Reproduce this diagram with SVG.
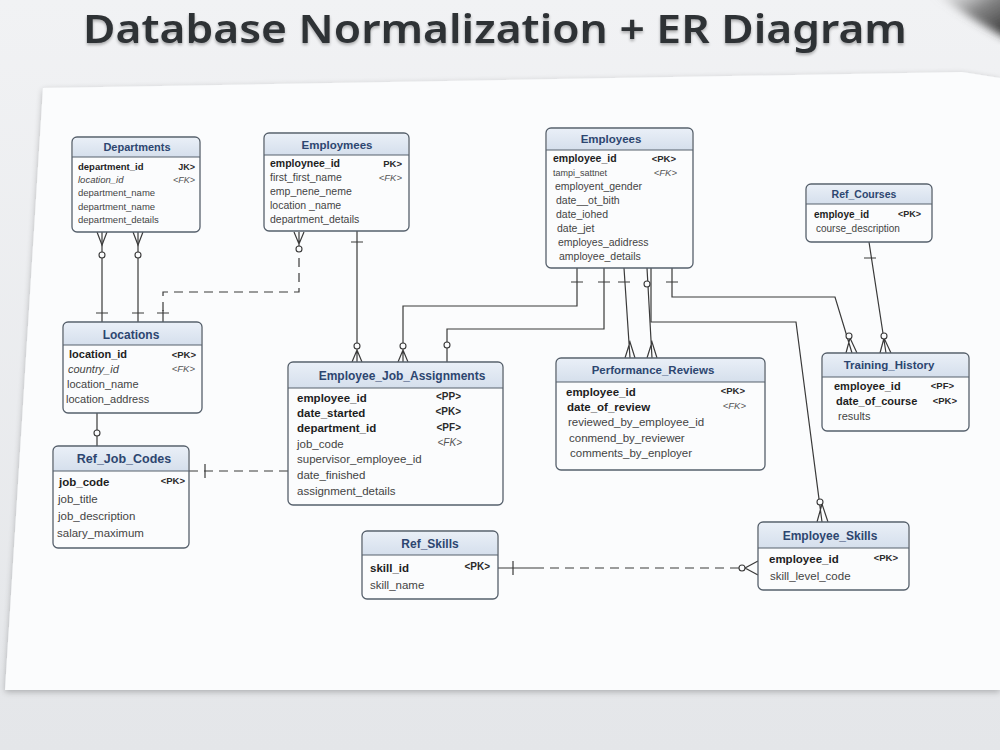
<svg xmlns="http://www.w3.org/2000/svg" width="1000" height="750" viewBox="0 0 1000 750">
<defs>
<linearGradient id="bg" x1="0" y1="0" x2="0" y2="1"><stop offset="0" stop-color="#f1f2f4"/><stop offset="1" stop-color="#e4e6e9"/></linearGradient>
<linearGradient id="hd" x1="0" y1="0" x2="0" y2="1"><stop offset="0" stop-color="#e9eff7"/><stop offset="1" stop-color="#d5dfec"/></linearGradient>
<linearGradient id="pen" x1="0" y1="0" x2="1" y2="1"><stop offset="0" stop-color="#bbb" stop-opacity="0"/><stop offset="0.5" stop-color="#555" stop-opacity="0.7"/><stop offset="1" stop-color="#222"/></linearGradient>
<filter id="blur"><feGaussianBlur stdDeviation="4"/></filter>
<filter id="sh" x="-5%" y="-5%" width="110%" height="115%"><feGaussianBlur in="SourceAlpha" stdDeviation="3"/><feOffset dy="2"/><feComponentTransfer><feFuncA type="linear" slope="0.25"/></feComponentTransfer><feMerge><feMergeNode/><feMergeNode in="SourceGraphic"/></feMerge></filter>
<filter id="tsh" x="-5%" y="-20%" width="110%" height="150%"><feGaussianBlur in="SourceAlpha" stdDeviation="1.5"/><feOffset dy="2"/><feComponentTransfer><feFuncA type="linear" slope="0.3"/></feComponentTransfer><feMerge><feMergeNode/><feMergeNode in="SourceGraphic"/></feMerge></filter>
</defs>
<style>
.box{fill:#fbfcfd;stroke:#56606c;stroke-width:1.3}
.hdr{fill:url(#hd)}
.sep{stroke:#56606c;stroke-width:1}
.ttl{font-family:"Liberation Sans",Arial,sans-serif;font-weight:bold;fill:#2d4670;text-anchor:middle}
.r{font-family:"Liberation Sans",Arial,sans-serif;fill:#444}
.b{font-weight:bold;fill:#1e1e1e}
.i{font-style:italic}
.k{font-family:"Liberation Sans",Arial,sans-serif;text-anchor:end;fill:#2a2a2a}
.kb{font-weight:bold}
.ki{font-style:italic;fill:#555}
.ln{fill:none;stroke:#3a3a3a;stroke-width:1.2}
.dl{fill:none;stroke:#3a3a3a;stroke-width:1.2;stroke-dasharray:9 6}
.c{fill:#fbfcfd;stroke:#3a3a3a;stroke-width:1.1}
</style>
<rect width="1000" height="750" fill="url(#bg)"/>
<path d="M930,-10 L1010,-10 L1010,40 Q975,22 930,-10 Z" fill="url(#pen)" filter="url(#blur)"/>
<polygon points="43,88 962,72 1000,78 1000,690 5,690" fill="#fbfcfd" filter="url(#sh)"/>
<text x="495" y="43" font-family="'Noto Sans','Open Sans',sans-serif" font-weight="600" font-size="40" fill="#2f3236" text-anchor="middle" textLength="824" lengthAdjust="spacingAndGlyphs" filter="url(#tsh)">Database Normalization + ER Diagram</text>

<g id="connectors">
<path class="ln" d="M102,232 V322 M138,232 V322"/>
<path class="ln" d="M97,232 L102,245 L107,232 M133,232 L138,245 L143,232 M96,313 H108 M132,313 H144"/>
<circle class="c" cx="102" cy="255" r="3"/><circle class="c" cx="138" cy="255" r="3"/>
<path class="dl" d="M299,258 V292 H163 V312"/>
<path class="ln" d="M299,232 V250 M294,232 L299,244 L304,232 M163,310 V322 M157,313 H169"/>
<circle class="c" cx="299" cy="249" r="3"/>
<path class="ln" d="M357,231 V362 M351,242 H363 M352,362 L357,350 L362,362"/>
<circle class="c" cx="357" cy="346" r="3"/>
<path class="ln" d="M577,268 V306 H403 V362 M571,282 H583 M398,362 L403,350 L408,362"/>
<circle class="c" cx="403" cy="346" r="3"/>
<path class="ln" d="M604,268 V329 H447 V362 M598,282 H610"/>
<circle class="c" cx="447" cy="345" r="3"/>
<path class="ln" d="M624,268 L630,358 M618,282 H630 M625,358 L630,342 L635,358"/>
<path class="ln" d="M647,268 L652,358 M647,358 L652,342 L657,358"/>
<circle class="c" cx="647" cy="284" r="3"/>
<path class="ln" d="M651,268 V322 H796 L822,522 M817,522 L822,504 L828,522"/>
<circle class="c" cx="820" cy="502" r="3"/>
<path class="ln" d="M672,268 V297 H835 L852,353 M666,282 H678 M846,353 L850,338 L857,353"/>
<circle class="c" cx="849" cy="336" r="3"/>
<path class="ln" d="M869,242 L886,353 M864,258 H876 M880,353 L884,338 L891,353"/>
<circle class="c" cx="884" cy="336" r="3"/>
<path class="ln" d="M97,413 V446"/>
<circle class="c" cx="97" cy="433" r="3"/>
<path class="dl" d="M189,471 H288"/>
<path class="ln" d="M205,464 V478"/>
<path class="ln" d="M498,568 H535"/>
<path class="dl" d="M535,568 H739"/>
<path class="ln" d="M513,561 V575 M758,561 L745,568 L758,575"/>
<circle class="c" cx="742" cy="568" r="3"/>
</g>

<g id="departments">
<rect class="box" x="72" y="137" width="128" height="95" rx="5"/>
<path class="hdr" d="M73,157 V142 Q73,138 77,138 H195 Q199,138 199,142 V157 Z"/>
<line class="sep" x1="72" y1="157" x2="200" y2="157"/>
<text class="ttl" x="137" y="151" font-size="11">Departments</text>
<g class="r" font-size="9.5"><text class="b" x="78" y="170">department_id</text><text class="i" x="78" y="183">location_id</text><text x="78" y="196">department_name</text><text x="78" y="210">department_name</text><text x="78" y="223">department_details</text></g>
<g class="k" font-size="9"><text class="kb" x="195" y="170">JK&gt;</text><text class="ki" x="195" y="183">&lt;FK&gt;</text></g>
</g>

<g id="employmees">
<rect class="box" x="264" y="133" width="145" height="98" rx="5"/>
<path class="hdr" d="M265,155 V138 Q265,134 269,134 H404 Q408,134 408,138 V155 Z"/>
<line class="sep" x1="264" y1="155" x2="409" y2="155"/>
<text class="ttl" x="337" y="149" font-size="11.5">Employmees</text>
<g class="r" font-size="10.5"><text class="b" x="270" y="167">employnee_id</text><text x="270" y="181">first_first_name</text><text x="270" y="195">emp_nene_neme</text><text x="270" y="209">location _name</text><text x="270" y="223">department_details</text></g>
<g class="k" font-size="9.5"><text class="kb" x="402" y="167">PK&gt;</text><text class="ki" x="402" y="181">&lt;FK&gt;</text></g>
</g>

<g id="employees">
<rect class="box" x="546" y="128" width="147" height="140" rx="5"/>
<path class="hdr" d="M547,150 V133 Q547,129 551,129 H688 Q692,129 692,133 V150 Z"/>
<line class="sep" x1="546" y1="150" x2="693" y2="150"/>
<text class="ttl" x="611" y="143" font-size="11.5">Employees</text>
<g class="r" font-size="10.5"><text class="b" x="553" y="162">employee_id</text><text x="553" y="176" font-size="9">tampi_sattnet</text><text x="555" y="190">employent_gender</text><text x="556" y="204">date__ot_bith</text><text x="556" y="218">date_iohed</text><text x="557" y="232">date_jet</text><text x="558" y="246">employes_adidress</text><text x="559" y="260">amployee_details</text></g>
<g class="k" font-size="9.5"><text class="kb" x="676" y="162">&lt;PK&gt;</text><text class="ki" x="677" y="176">&lt;FK&gt;</text></g>
</g>

<g id="ref_courses">
<rect class="box" x="806" y="184" width="126" height="58" rx="5"/>
<path class="hdr" d="M807,204 V189 Q807,185 811,185 H927 Q931,185 931,189 V204 Z"/>
<line class="sep" x1="806" y1="204" x2="932" y2="204"/>
<text class="ttl" x="864" y="198" font-size="10.5">Ref_Courses</text>
<g class="r" font-size="10"><text class="b" x="814" y="218">employe_id</text><text x="816" y="232">course_description</text></g>
<g class="k" font-size="9"><text class="kb" x="921" y="217">&lt;PK&gt;</text></g>
</g>

<g id="locations">
<rect class="box" x="63" y="322" width="139" height="91" rx="5"/>
<path class="hdr" d="M64,345 V327 Q64,323 68,323 H197 Q201,323 201,327 V345 Z"/>
<line class="sep" x1="63" y1="345" x2="202" y2="345"/>
<text class="ttl" x="131" y="339" font-size="12">Locations</text>
<g class="r" font-size="11"><text class="b" x="69" y="358">location_id</text><text class="i" x="68" y="373">country_id</text><text x="67" y="388">location_name</text><text x="66" y="403">location_address</text></g>
<g class="k" font-size="9.5"><text class="kb" x="196" y="358">&lt;PK&gt;</text><text class="ki" x="195" y="372">&lt;FK&gt;</text></g>
</g>

<g id="employee_job_assignments">
<rect class="box" x="288" y="362" width="215" height="143" rx="5"/>
<path class="hdr" d="M289,388 V367 Q289,363 293,363 H498 Q502,363 502,367 V388 Z"/>
<line class="sep" x1="288" y1="388" x2="503" y2="388"/>
<text class="ttl" x="402" y="380" font-size="12">Employee_Job_Assignments</text>
<g class="r" font-size="11.5"><text class="b" x="297" y="402">employee_id</text><text class="b" x="297" y="417">date_started</text><text class="b" x="297" y="432">department_id</text><text x="297" y="448">job_code</text><text x="297" y="463">supervisor_employee_id</text><text x="297" y="479">date_finished</text><text x="297" y="495">assignment_details</text></g>
<g class="k" font-size="10"><text class="kb" x="461" y="400">&lt;PP&gt;</text><text class="kb" x="461" y="415">&lt;PK&gt;</text><text class="kb" x="461" y="431">&lt;PF&gt;</text><text class="ki" x="462" y="446">&lt;FK&gt;</text></g>
</g>

<g id="performance_reviews">
<rect class="box" x="556" y="358" width="209" height="112" rx="5"/>
<path class="hdr" d="M557,382 V363 Q557,359 561,359 H760 Q764,359 764,363 V382 Z"/>
<line class="sep" x1="556" y1="382" x2="765" y2="382"/>
<text class="ttl" x="653" y="374" font-size="11.5">Performance_Reviews</text>
<g class="r" font-size="11.5"><text class="b" x="566" y="396">employee_id</text><text class="b" x="567" y="411">date_of_review</text><text x="568" y="426">reviewed_by_employee_id</text><text x="569" y="442">conmend_by_reviewer</text><text x="570" y="457">comments_by_enployer</text></g>
<g class="k" font-size="9.5"><text class="kb" x="745" y="394">&lt;PK&gt;</text><text class="ki" x="746" y="409">&lt;FK&gt;</text></g>
</g>

<g id="training_history">
<rect class="box" x="822" y="353" width="147" height="78" rx="5"/>
<path class="hdr" d="M823,377 V358 Q823,354 827,354 H964 Q968,354 968,358 V377 Z"/>
<line class="sep" x1="822" y1="377" x2="969" y2="377"/>
<text class="ttl" x="889" y="369" font-size="11.5">Training_History</text>
<g class="r" font-size="11"><text class="b" x="834" y="390">employee_id</text><text class="b" x="836" y="405">date_of_course</text><text x="838" y="420">results</text></g>
<g class="k" font-size="9.5"><text class="kb" x="954" y="389">&lt;PF&gt;</text><text class="kb" x="957" y="404">&lt;PK&gt;</text></g>
</g>

<g id="ref_job_codes">
<rect class="box" x="53" y="446" width="136" height="102" rx="5"/>
<path class="hdr" d="M54,471 V451 Q54,447 58,447 H184 Q188,447 188,451 V471 Z"/>
<line class="sep" x1="53" y1="471" x2="189" y2="471"/>
<text class="ttl" x="124" y="463" font-size="12.5">Ref_Job_Codes</text>
<g class="r" font-size="11.5"><text class="b" x="59" y="486">job_code</text><text x="58" y="503">job_title</text><text x="58" y="520">job_description</text><text x="57" y="537">salary_maximum</text></g>
<g class="k" font-size="9.5"><text class="kb" x="185" y="484">&lt;PK&gt;</text></g>
</g>

<g id="ref_skills">
<rect class="box" x="362" y="531" width="136" height="68" rx="5"/>
<path class="hdr" d="M363,555 V536 Q363,532 367,532 H493 Q497,532 497,536 V555 Z"/>
<line class="sep" x1="362" y1="555" x2="498" y2="555"/>
<text class="ttl" x="430" y="548" font-size="12">Ref_Skills</text>
<g class="r" font-size="11.5"><text class="b" x="370" y="572">skill_id</text><text x="370" y="589">skill_name</text></g>
<g class="k" font-size="10"><text class="kb" x="490" y="570">&lt;PK&gt;</text></g>
</g>

<g id="employee_skills">
<rect class="box" x="758" y="522" width="151" height="68" rx="5"/>
<path class="hdr" d="M759,548 V527 Q759,523 763,523 H904 Q908,523 908,527 V548 Z"/>
<line class="sep" x1="758" y1="548" x2="909" y2="548"/>
<text class="ttl" x="830" y="540" font-size="12">Employee_Skills</text>
<g class="r" font-size="11.5"><text class="b" x="769" y="563">employee_id</text><text x="770" y="580">skill_level_code</text></g>
<g class="k" font-size="9.5"><text class="kb" x="898" y="561">&lt;PK&gt;</text></g>
</g>
</svg>
